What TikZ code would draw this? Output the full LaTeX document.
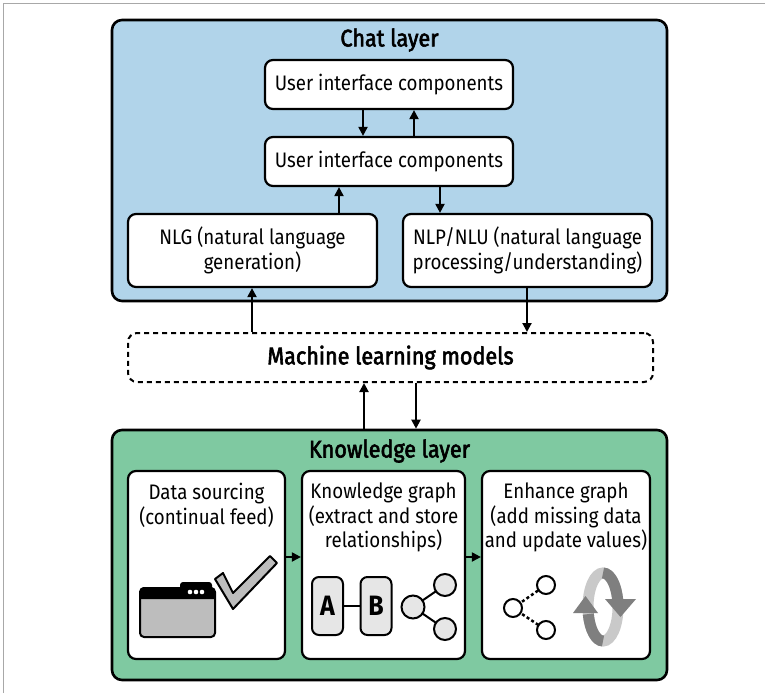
\documentclass[tikz,border=0pt]{standalone}
\usepackage{fontspec}
\setmainfont[FakeStretch=0.89]{Fira Sans}
\newfontfamily\medfont[FakeStretch=0.9, FakeBold=2.5]{Fira Sans}
\usetikzlibrary{arrows.meta}
\definecolor{chatblue}{HTML}{B1D4EA}
\definecolor{kgreen}{HTML}{7FC9A1}
\definecolor{framegray}{HTML}{A8A8A8}
\definecolor{icongray}{HTML}{BDBDBD}
\definecolor{iconlight}{HTML}{E6E6E6}
\definecolor{ringlight}{HTML}{C9C9C9}
\definecolor{ringdark}{HTML}{7F7F7F}
\tikzset{
 layer/.style={draw=black, line width=2.6pt, rounded corners=10pt, inner sep=0pt},
 box/.style={draw=black, fill=white, line width=2.2pt, rounded corners=8pt, inner sep=0pt, align=center, font=\fontsize{21}{24.5}\selectfont},
 ttl/.style={font=\fontsize{24}{28}\medfont, inner sep=0pt},
 txt/.style={align=center, font=\fontsize{21}{24.5}\selectfont, inner sep=0pt, anchor=north},
 arr/.style={line width=2pt, -{Triangle[length=9pt,width=9pt]}},
 letter/.style={draw=black, fill=iconlight, line width=2pt, rounded corners=7pt, minimum width=31pt, minimum height=58pt, inner sep=0pt, font=\fontsize{28}{32}\selectfont\bfseries},
}
\begin{document}
\begin{tikzpicture}[x=1pt,y=-1pt]
\useasboundingbox (0,0) rectangle (765,693);
\draw[framegray, line width=1pt] (3.5,693) -- (3.5,3.5) -- (765,3.5);
% layers
\node[layer, fill=chatblue, minimum width=555pt, minimum height=281pt] (chat) at (389.5,160.5) {};
\node[ttl] (chatt) at (389.5,40) {Chat layer};
\node[layer, fill=kgreen, minimum width=555pt, minimum height=250pt] (kl) at (389.5,555) {};
\node[ttl] (klt) at (389.5,451) {Knowledge layer};
% chat boxes
\node[box, minimum width=248pt, minimum height=49pt] (ui1) at (389,84.5) {User interface components};
\node[box, minimum width=248pt, minimum height=49pt] (ui2) at (389,161.5) {User interface components};
\node[box, minimum width=249pt, minimum height=73pt] (nlg) at (252.5,250.5) {NLG (natural language\\generation)};
\node[box, minimum width=249pt, minimum height=73pt] (nlu) at (527.5,250.5) {NLP/NLU (natural language\\processing/understanding)};
% ML
\node[draw=black, fill=white, line width=2pt, dash pattern=on 5pt off 4pt, rounded corners=9pt, minimum width=525pt, minimum height=49pt, inner sep=0pt, font=\fontsize{24}{28}\medfont] (ml) at (390.5,357.5) {Machine learning models};
% knowledge boxes
\node[box, minimum width=157pt, minimum height=188pt] (ds) at (206.5,565) {};
\node[box, minimum width=163pt, minimum height=188pt] (kg) at (383.5,565) {};
\node[box, minimum width=168pt, minimum height=188pt] (eg) at (566,565) {};
\node[txt] (dst) at (206.5,483) {Data sourcing\\(continual feed)};
\node[txt] (kgt) at (383.5,483) {Knowledge graph\\(extract and store\\relationships)};
\node[txt] (egt) at (566,483) {Enhance graph\\(add missing data\\and update values)};
% arrows
\draw[arr] (363,0 |- ui1.south) -- (363,0 |- ui2.north);
\draw[arr] (414,0 |- ui2.north) -- (414,0 |- ui1.south);
\draw[arr] (339,0 |- nlg.north) -- (339,0 |- ui2.south);
\draw[arr] (440,0 |- ui2.south) -- (440,0 |- nlu.north);
\draw[arr] (252,0 |- ml.north) -- (252,0 |- nlg.south);
\draw[arr] (527,0 |- nlu.south) -- (527,0 |- ml.north);
\draw[arr] (364,0 |- kl.north) -- (364,0 |- ml.south);
\draw[arr] (416,0 |- ml.south) -- (416,0 |- kl.north);
\draw[arr] (ds.east |- 0,557) -- (kg.west |- 0,557);
\draw[arr] (kg.east |- 0,557) -- (eg.west |- 0,557);
% data sourcing icon
\draw[fill=icongray, line width=2pt, rounded corners=4pt] (140,588) rectangle (215,637);
\fill[black] (140,599) {[rounded corners=4pt] -- (140,587) -- (215,587)} -- (215,599) -- cycle;
\fill[black, rounded corners=3pt] (180,582) rectangle (212,596);
\fill[white] (190,592) circle (2.3) (196,592) circle (2.3) (202,592) circle (2.3);
\draw[fill=icongray, line width=2pt, line join=round] (215,579) -- (223,573) -- (233,593) -- (270,556) -- (277,563) -- (233,609) -- cycle;
% knowledge graph icon
\node[letter] (la) at (327.5,606) {A};
\node[letter] (lb) at (376,606) {B};
\draw[line width=2pt] (la.east) -- (lb.west);
\coordinate (kc) at (413,607);
\coordinate (kt) at (445,585);
\coordinate (kb) at (445,629);
\draw[line width=2pt] (kc) -- (kt) (kc) -- (kb);
\draw[fill=iconlight, line width=2pt] (kc) circle (11.5) (kt) circle (11) (kb) circle (11);
% enhance graph icon
\coordinate (ec) at (513,608);
\coordinate (et) at (546,585);
\coordinate (eb) at (546,630);
\draw[line width=2.5pt, dash pattern=on 3pt off 2.5pt] (ec) -- (et) (ec) -- (eb);
\draw[fill=white, line width=2pt] (ec) circle (9) (et) circle (9) (eb) circle (9);
\draw[ringlight, line width=11pt] (603,607) ellipse [x radius=15, y radius=34];
\draw[ringdark, line width=11pt] (603,573) arc[start angle=270, end angle=350, x radius=15, y radius=34];
\fill[ringdark] (605,599) -- (636,599) -- (620.5,617) -- cycle;
\draw[ringdark, line width=11pt] (603,641) arc[start angle=90, end angle=168, x radius=15, y radius=34];
\fill[ringdark] (573,613) -- (598,613) -- (585.5,596) -- cycle;
\end{tikzpicture}
\end{document}
